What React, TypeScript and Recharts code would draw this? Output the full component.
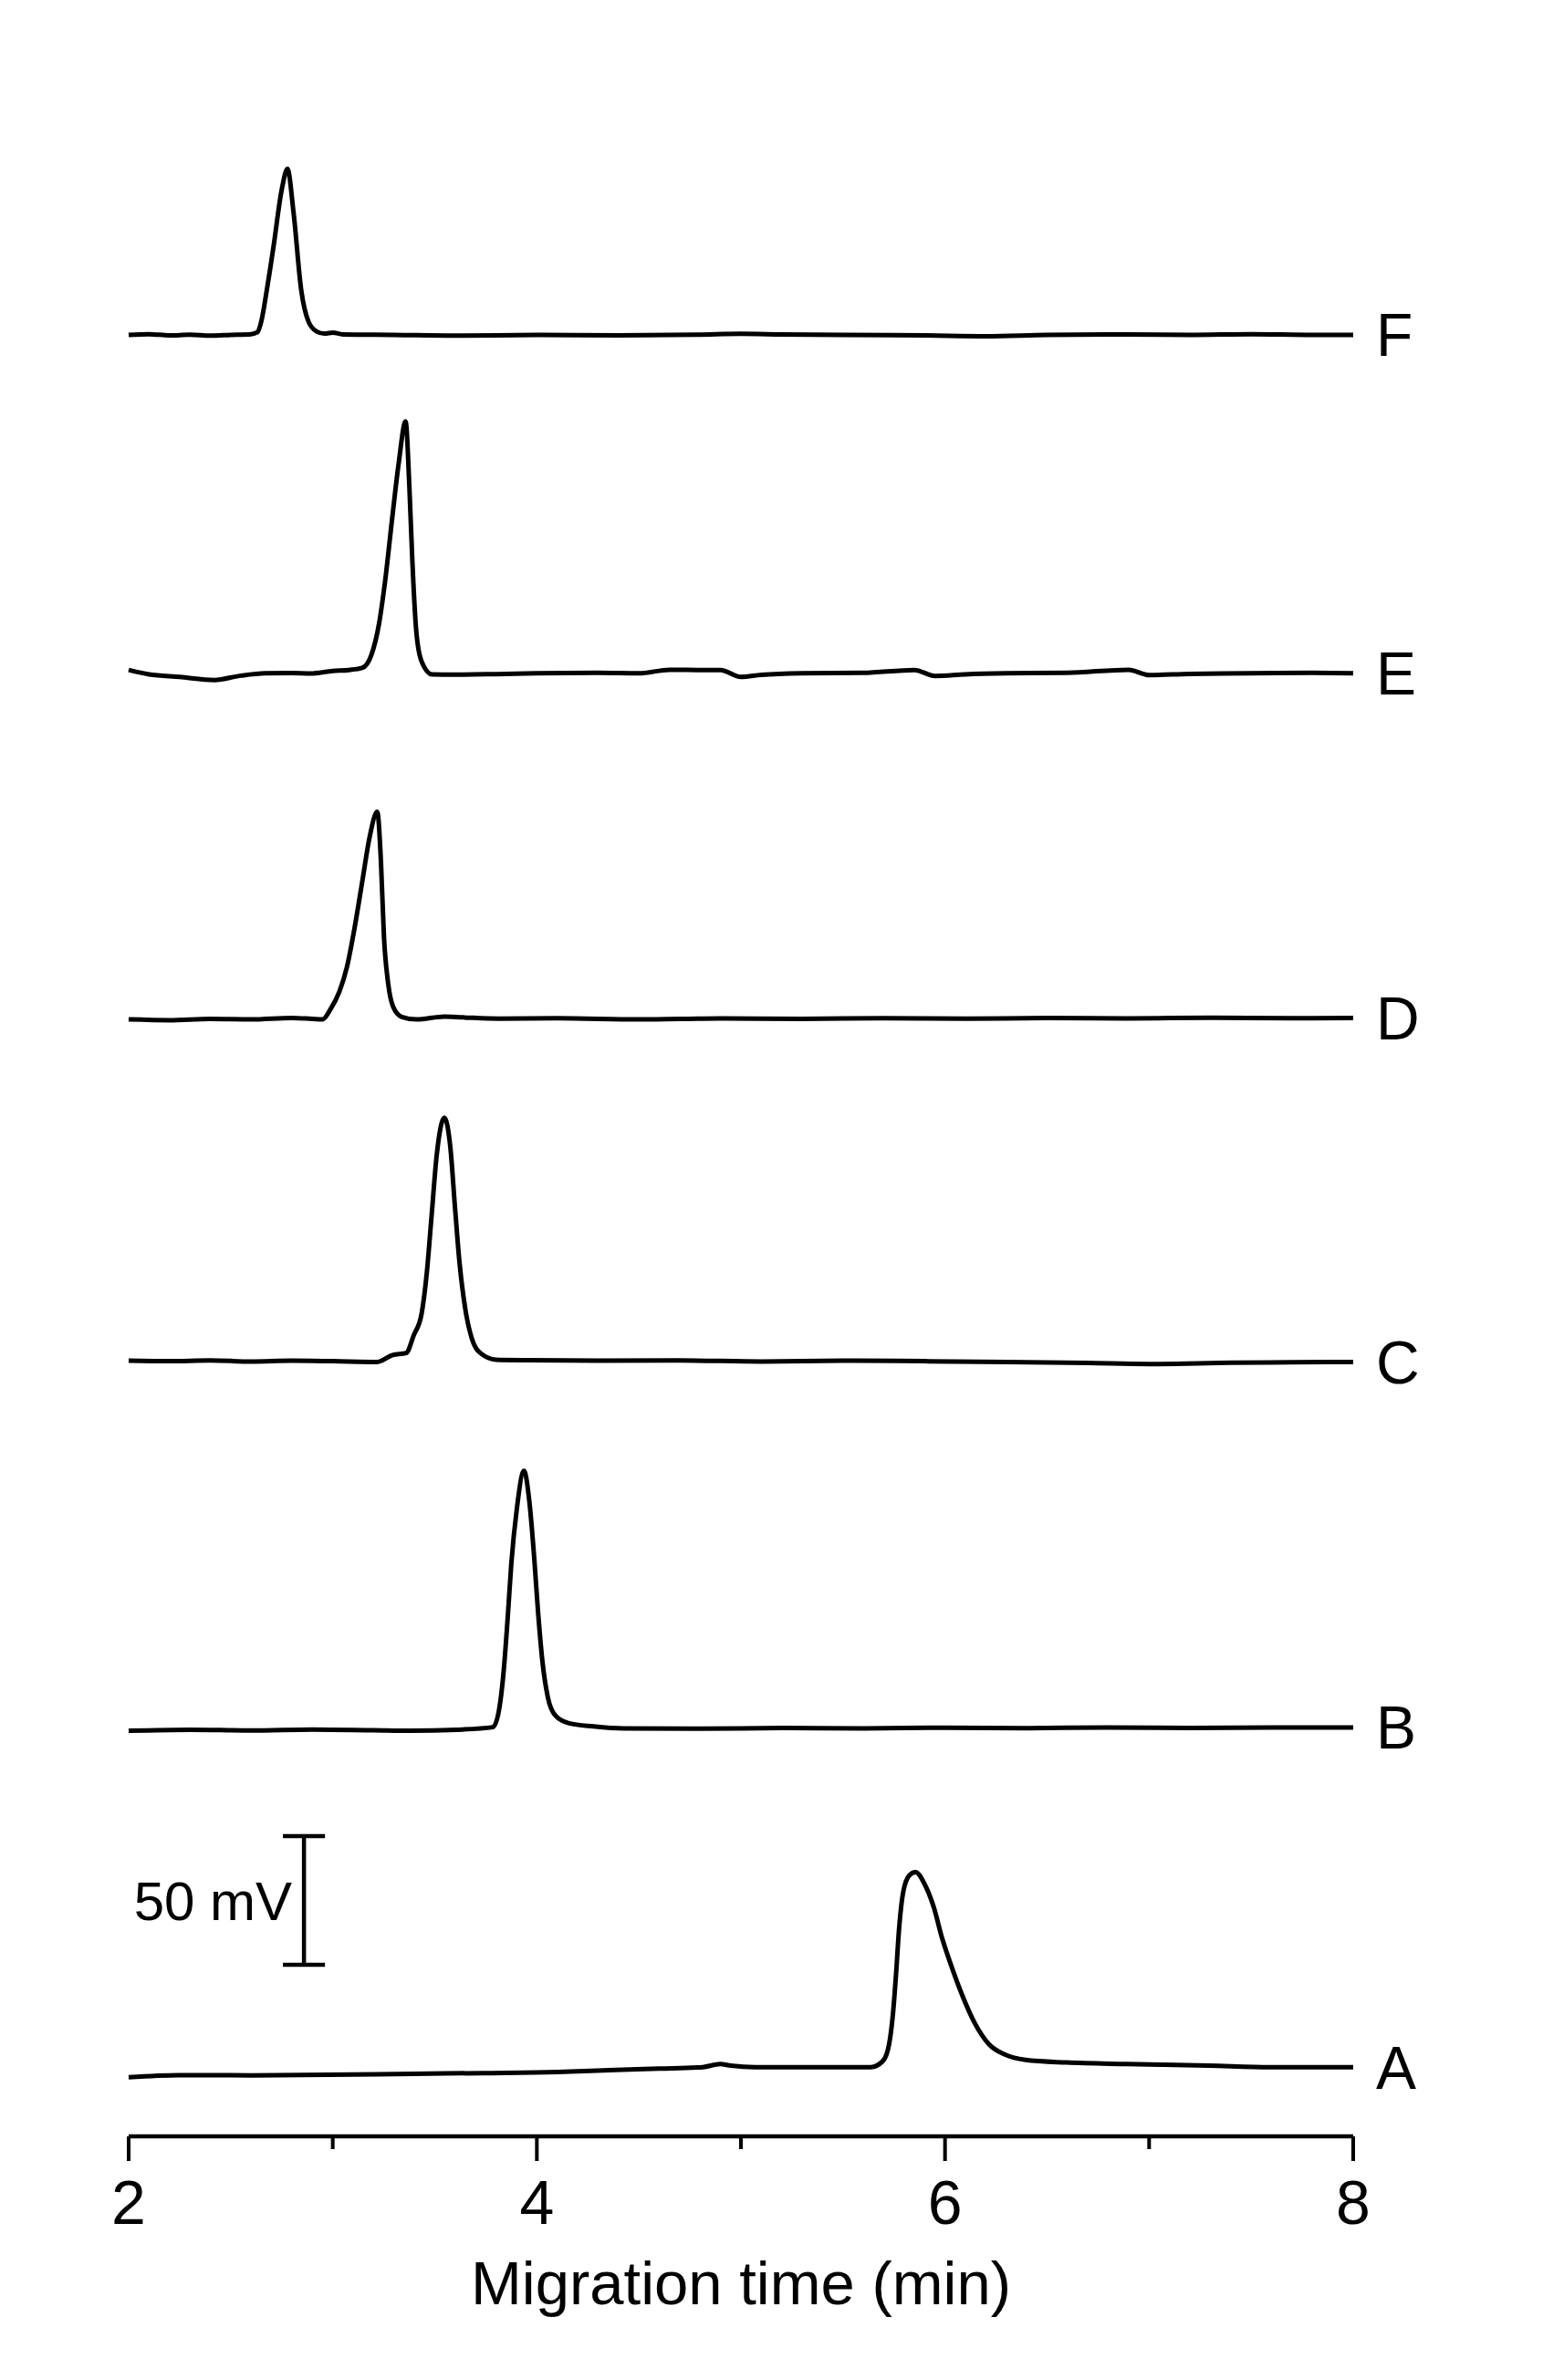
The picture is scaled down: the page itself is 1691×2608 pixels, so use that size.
import {
  LineChart,
  Line,
  XAxis,
  YAxis,
  ReferenceLine,
  ReferenceDot,
} from "recharts";

// [migration time (min), signal above the trace's own baseline (mV)]
type Pt = [number, number];

const traceNames = ["A", "B", "C", "D", "E", "F"];

// vertical offset of each trace baseline (mV above the x axis)
const baselineOffsets = [23.4, 157.8, 301.1, 434.0, 569.1, 700.0];

const traceA: Pt[] = [
  [2.0, -0.4], [2.245, 0.4], [2.6, 0.3], [3.1, 0.6], [3.4, 0.9], [3.74, 1.2],
  [4.1, 1.6], [4.385, 2.4], [4.6, 2.9], [4.813, 3.5], [4.898, 4.7], [4.95, 4.1],
  [5.07, 3.5], [5.454, 3.5], [5.636, 3.5], [5.696, 5.9], [5.726, 12.4],
  [5.745, 24.3], [5.76, 39.6], [5.775, 57.4], [5.795, 71.5], [5.825, 78],
  [5.855, 79.3], [5.905, 73.8], [5.945, 65.6], [5.985, 53.8], [6.035, 41.9],
  [6.085, 31.3], [6.145, 20.7], [6.215, 12.4], [6.295, 8.3], [6.395, 6.3],
  [6.595, 5.3], [6.894, 4.7], [7.293, 4.1], [7.593, 3.5], [8.0, 3.5],
];

const traceB: Pt[] = [
  [2.0, -0.2], [2.3, 0.2], [2.6, -0.1], [2.9, 0.3], [3.2, 0], [3.383, -0.2],
  [3.606, 0.2], [3.785, 1.2], [3.815, 8], [3.838, 23.4], [3.857, 43.5],
  [3.875, 64.8], [3.902, 86.1], [3.937, 100.8], [3.964, 88.4], [3.987, 67.1],
  [4.006, 45.9], [4.027, 27], [4.054, 12.8], [4.091, 5.7], [4.158, 2.7],
  [4.277, 1.5], [4.426, 0.7], [4.8, 0.6], [5.2, 0.9], [5.6, 0.7], [6.0, 1],
  [6.4, 0.8], [6.8, 1.1], [7.2, 0.9], [7.6, 1.1], [8.0, 1.1],
];

const traceC: Pt[] = [
  [2.0, 0.3], [2.2, 0.1], [2.4, 0.4], [2.6, 0], [2.8, 0.3], [3.0, 0.1],
  [3.218, -0.2], [3.293, 2.5], [3.36, 3.3], [3.397, 10.2], [3.435, 18.4],
  [3.46, 33.8], [3.484, 56.3], [3.509, 79.9], [3.547, 94.7], [3.576, 83.4],
  [3.599, 59.8], [3.621, 38.5], [3.651, 19.6], [3.681, 9], [3.726, 3.1],
  [3.8, 0.7], [3.964, 0.5], [4.3, 0.3], [4.7, 0.4], [5.1, 0], [5.5, 0.3],
  [5.9, 0.1], [6.3, -0.2], [6.7, -0.6], [7.0, -1], [7.4, -0.5], [7.7, -0.3],
  [8.0, -0.2],
];

const traceD: Pt[] = [
  [2.0, 0], [2.2, -0.3], [2.4, 0.2], [2.6, 0], [2.8, 0.6], [2.9, 0.2],
  [2.95, 0], [2.987, 3.7], [3.032, 10.7], [3.069, 20.2], [3.107, 35.6],
  [3.144, 53.3], [3.181, 71], [3.218, 80.7], [3.236, 61.6], [3.251, 32],
  [3.271, 14.3], [3.296, 4.9], [3.338, 1], [3.41, 0], [3.547, 1.1],
  [3.636, 0.8], [3.815, 0.3], [4.1, 0.5], [4.5, 0], [4.9, 0.4], [5.3, 0.2],
  [5.7, 0.5], [6.1, 0.3], [6.5, 0.6], [6.9, 0.4], [7.3, 0.7], [7.7, 0.5],
  [8.0, 0.6],
];

const traceE: Pt[] = [
  [2.0, 0.7], [2.1, -1], [2.25, -2], [2.42, -3.2], [2.55, -1.5], [2.67, -0.6],
  [2.8, -0.5], [2.89, -0.7], [3.0, 0.3], [3.08, 0.7], [3.144, 1.5],
  [3.189, 6.5], [3.226, 18.3], [3.256, 34.9], [3.293, 60.9], [3.323, 81],
  [3.357, 97.3], [3.375, 72.7], [3.39, 43.1], [3.409, 16], [3.435, 4.1],
  [3.487, -1], [3.6, -1.1], [3.8, -0.9], [4.0, -0.6], [4.3, -0.4], [4.5, -0.6],
  [4.65, 0.8], [4.8, 0.7], [4.9, 0.7], [5.0, -2], [5.1, -1.2], [5.3, -0.6],
  [5.6, -0.4], [5.85, 0.7], [5.95, -1.6], [6.1, -1], [6.3, -0.6], [6.6, -0.4],
  [6.9, 0.8], [7.0, -1.3], [7.2, -0.8], [7.5, -0.6], [7.8, -0.4], [8.0, -0.6],
];

const traceF: Pt[] = [
  [2.0, 0], [2.1, 0.3], [2.2, -0.2], [2.3, 0.1], [2.4, -0.3], [2.5, 0],
  [2.6, 0.3], [2.63, 1], [2.652, 6], [2.674, 16], [2.692, 25], [2.711, 35],
  [2.749, 56], [2.778, 64.5], [2.808, 47.5], [2.845, 17.7], [2.882, 5],
  [2.92, 1.4], [2.96, 0.5], [3.0, 0.9], [3.05, 0.2], [3.3, 0], [3.6, -0.3],
  [4.0, 0], [4.4, -0.2], [4.8, 0.1], [5.0, 0.4], [5.2, 0.2], [5.5, 0],
  [5.9, -0.2], [6.2, -0.5], [6.5, 0], [6.9, 0.2], [7.2, 0], [7.5, 0.3],
  [7.8, 0], [8.0, 0],
];

const traces = [traceA, traceB, traceC, traceD, traceE, traceF];

const xTicks = [2, 3, 4, 5, 6, 7, 8];
const majorTicks = [2, 4, 6, 8];

// 50 mV scale bar
const scaleBarTime = 2.859;
const scaleBarLow = 66.7;
const scaleBarSpan = 50;
const scaleCapHalf = 0.103;

const FONT = '"Liberation Sans", Arial, sans-serif';

function TimeTick(props: any) {
  const { x, y, payload } = props;
  const major = majorTicks.includes(payload.value);
  return (
    <g>
      <line x1={x} x2={x} y1={y} y2={y + (major ? 27 : 14)} stroke="#000" strokeWidth={4} />
      {major && (
        <text x={x} y={y + 96} textAnchor="middle" fontSize={68} fill="#000" fontFamily={FONT}>
          {payload.value}
        </text>
      )}
    </g>
  );
}

export default function App() {
  const series = traces.map((pts, i) =>
    pts.map(([t, v]) => ({ t, v: baselineOffsets[i] + v }))
  );
  const barTop = scaleBarLow + scaleBarSpan;

  return (
    <div style={{ width: 1691, height: 2608, background: "#fff", fontFamily: FONT }}>
      <style>{"body{margin:0}"}</style>
      <LineChart width={1691} height={2608} margin={{ top: 85, right: 208, left: 141, bottom: 0 }}>
        <XAxis
          type="number"
          dataKey="t"
          domain={[2, 8]}
          ticks={xTicks}
          interval={0}
          allowDuplicatedCategory={false}
          height={267}
          tickSize={0}
          tickMargin={0}
          tickLine={false}
          axisLine={{ stroke: "#000", strokeWidth: 4.5 }}
          tick={<TimeTick />}
          label={{
            value: "Migration time (min)",
            position: "insideBottom",
            offset: 83,
            fontSize: 67,
            fill: "#000",
            fontFamily: FONT,
          }}
        />
        <YAxis type="number" domain={[0, 800]} hide />

        {series.map((data, i) => (
          <Line
            key={traceNames[i]}
            data={data}
            dataKey="v"
            type="monotone"
            stroke="#000"
            strokeWidth={5}
            strokeLinejoin="round"
            dot={false}
            activeDot={false}
            isAnimationActive={false}
          />
        ))}

        {series.map((data, i) => (
          <ReferenceDot
            key={"lbl" + traceNames[i]}
            x={8}
            y={data[data.length - 1].v}
            r={0}
            fill="none"
            stroke="none"
            label={{
              value: traceNames[i],
              position: "right",
              offset: 25,
              fontSize: 66,
              fill: "#000",
              fontFamily: FONT,
            }}
          />
        ))}

        <ReferenceLine
          segment={[
            { x: scaleBarTime, y: scaleBarLow },
            { x: scaleBarTime, y: barTop },
          ]}
          stroke="#000"
          strokeWidth={4.5}
        />
        <ReferenceLine
          segment={[
            { x: scaleBarTime - scaleCapHalf, y: scaleBarLow },
            { x: scaleBarTime + scaleCapHalf, y: scaleBarLow },
          ]}
          stroke="#000"
          strokeWidth={4.5}
        />
        <ReferenceLine
          segment={[
            { x: scaleBarTime - scaleCapHalf, y: barTop },
            { x: scaleBarTime + scaleCapHalf, y: barTop },
          ]}
          stroke="#000"
          strokeWidth={4.5}
        />
        <ReferenceDot
          x={scaleBarTime}
          y={scaleBarLow + scaleBarSpan / 2}
          r={0}
          fill="none"
          stroke="none"
          label={{
            value: "50 mV",
            position: "left",
            offset: 13,
            fontSize: 60,
            fill: "#000",
            fontFamily: FONT,
          }}
        />
      </LineChart>
    </div>
  );
}
